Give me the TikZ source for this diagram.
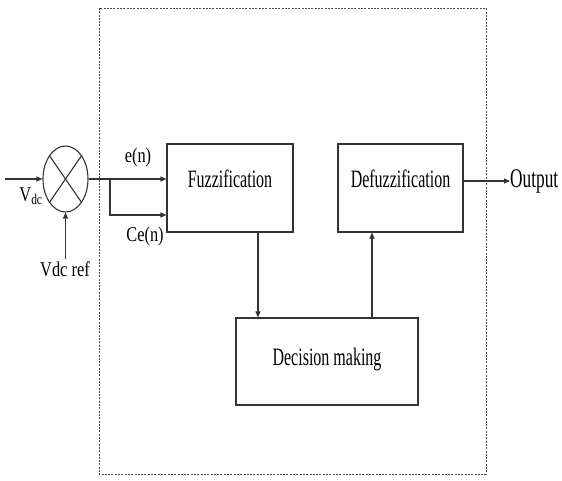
\documentclass[tikz,border=0pt]{standalone}
\usepackage{fontspec}
\setmainfont{Liberation Serif}[FakeStretch=0.64]
\newfontfamily\lblfont{Liberation Serif}[FakeStretch=0.78]
\usetikzlibrary{arrows.meta,shapes.geometric}
\tikzset{
  lw/.style={line width=1.1pt, draw=black!80},
  blockbox/.style={lw, rectangle, inner sep=0pt, font=\fontsize{25}{25}\selectfont},
  lbl/.style={inner sep=0pt, font=\lblfont\fontsize{21}{21}\selectfont},
  arr/.style={lw, -{Triangle[length=6pt,width=5pt]}},
  frame/.style={draw=black!70, line width=0.9pt, dash pattern=on 2pt off 1.3pt}
}
\begin{document}
\begin{tikzpicture}[x=1pt,y=-1pt]
\useasboundingbox (0,0) rectangle (562,481);
% dashed frame
\draw[frame] (99,8) rectangle (486,474);
% summing junction
\node[lw, ellipse, minimum width=45pt, minimum height=66pt, inner sep=0pt] (sum) at (65.5,179) {};
\draw[lw] (sum.north west) -- (sum.south east);
\draw[lw] (sum.north east) -- (sum.south west);
% blocks
\node[blockbox, minimum width=126pt, minimum height=88pt, text height=17pt, text depth=18pt] (fuzz) at (230,188) {Fuzzification};
\node[blockbox, minimum width=125pt, minimum height=88pt, text height=17pt, text depth=17pt] (defuzz) at (400.5,188) {Defuzzification};
\node[blockbox, minimum width=182pt, minimum height=87pt, text height=17pt, text depth=10pt] (dec) at (327,361.5) {Decision making};
% labels
\coordinate (vin) at (5,179);
\coordinate (vref) at (65.5,259);
\coordinate (jn) at (110,179);
\node[lbl] (vdc) at (31,196) {V\textsubscript{dc}};
\node[lbl, anchor=base] (vdcref) at (65,276) {Vdc ref};
\node[lbl] (en) at (138,157) {e(n)};
\node[lbl] (cen) at (145,236) {Ce(n)};
\node[font=\fontsize{27}{27}\selectfont, anchor=west, inner sep=0pt] (outp) at (510,181) {Output};
% connectors
\draw[arr] (vin) -- (sum.west);
\draw[arr] (vref) -- (sum.south);
\draw[arr] (sum.east) -- (fuzz.west |- sum.east);
\draw[arr] (jn) |- ([yshift=-27pt]fuzz.west);
\draw[arr] (fuzz.south -| 258,0) -- (dec.north -| 258,0);
\draw[arr] (dec.north -| 372,0) -- (defuzz.south -| 372,0);
\draw[arr] (defuzz.east |- outp.west) -- (outp.west);
\end{tikzpicture}
\end{document}
